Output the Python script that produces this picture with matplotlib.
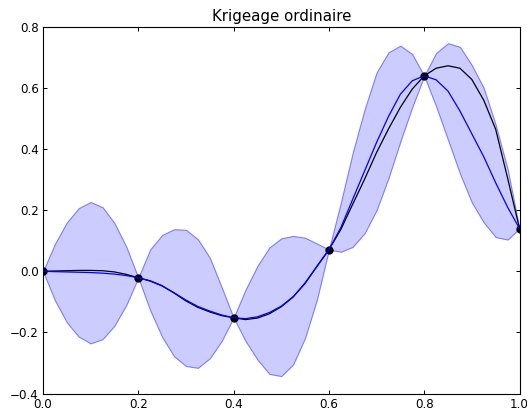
import numpy as np
import matplotlib
matplotlib.use("Agg")
import matplotlib.pyplot as plt

# -----------------------------
# DATA
# -----------------------------
x_grid = np.linspace(0.0, 1.0, 41)

x_obs = [0.0, 0.2, 0.4, 0.6, 0.8, 1.0]
y_obs = [0.0, -0.021, -0.152, 0.071, 0.640, 0.140]

# true function (black)
y_true = [
    0.000, 0.001, 0.002, 0.003, 0.003, 0.002, -0.002, -0.010, -0.021,
    -0.031, -0.047, -0.071, -0.097, -0.118, -0.133, -0.145, -0.152,
    -0.158, -0.153, -0.139, -0.116, -0.084, -0.038, 0.016, 0.071,
    0.137, 0.220, 0.302, 0.389, 0.466, 0.537, 0.597, 0.640,
    0.665, 0.673, 0.665, 0.628, 0.560, 0.465, 0.305, 0.140,
]

# kriging prediction (blue)
y_pred = [
    0.000, -0.001, -0.002, -0.003, -0.004, -0.006, -0.009, -0.014, -0.021,
    -0.032, -0.048, -0.070, -0.094, -0.115, -0.130, -0.143, -0.152,
    -0.155, -0.149, -0.135, -0.114, -0.083, -0.040, 0.017, 0.071,
    0.143, 0.236, 0.329, 0.422, 0.507, 0.580, 0.624, 0.640,
    0.627, 0.590, 0.525, 0.450, 0.375, 0.290, 0.210, 0.140,
]

# confidence band
y_upper = [
    0.000, 0.090, 0.160, 0.207, 0.227, 0.210, 0.158, 0.080, -0.021,
    0.072, 0.119, 0.138, 0.136, 0.105, 0.045, -0.052, -0.152,
    -0.060, 0.018, 0.078, 0.108, 0.116, 0.110, 0.091, 0.071,
    0.225, 0.389, 0.531, 0.651, 0.717, 0.739, 0.711, 0.640,
    0.715, 0.747, 0.735, 0.675, 0.600, 0.480, 0.335, 0.140,
]
y_lower = [
    0.000, -0.095, -0.167, -0.214, -0.236, -0.222, -0.178, -0.110, -0.021,
    -0.128, -0.215, -0.278, -0.310, -0.316, -0.285, -0.228, -0.152,
    -0.228, -0.289, -0.336, -0.343, -0.305, -0.218, -0.092, 0.071,
    0.064, 0.080, 0.125, 0.200, 0.305, 0.425, 0.538, 0.640,
    0.540, 0.430, 0.320, 0.225, 0.160, 0.112, 0.104, 0.140,
]

# -----------------------------
# FIGURE
# -----------------------------
fig = plt.figure(figsize=(5.27, 4.12), dpi=100)
ax = fig.add_axes([0.0816, 0.0449, 0.9042, 0.8896])

ax.fill_between(x_grid, y_lower, y_upper,
                facecolor=(0, 0, 1, 0.2), edgecolor=(0, 0, 1, 0.45),
                linewidth=0.8, zorder=1)
ax.plot(x_grid, y_true, color="k", linewidth=0.9, zorder=2)
ax.plot(x_obs, y_obs, "o", color="k", markersize=5, zorder=3)
ax.plot(x_grid, y_pred, color="b", linewidth=0.9, zorder=4)

ax.set_xlim(0.0, 1.0)
ax.set_ylim(-0.4, 0.8)
ax.set_xticks([0.0, 0.2, 0.4, 0.6, 0.8, 1.0])
ax.set_yticks([-0.4, -0.2, 0.0, 0.2, 0.4, 0.6, 0.8])

ax.tick_params(direction="in", length=2.9, width=0.7, top=True, right=True,
               labelsize=8.6, pad=2.9)
for sp in ax.spines.values():
    sp.set_linewidth(0.8)

ax.set_title("Krigeage ordinaire", fontsize=10.8, pad=4)

fig.savefig("out.png", dpi=100)
plt.close(fig)
